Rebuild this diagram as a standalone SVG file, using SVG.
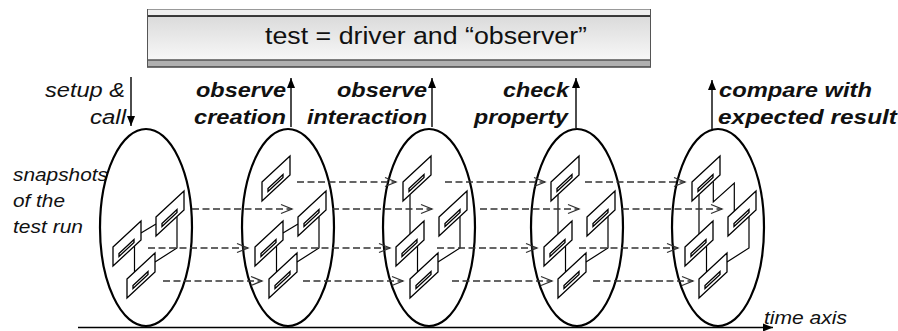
<svg xmlns="http://www.w3.org/2000/svg" width="898" height="331" viewBox="0 0 898 331">
  <style>
    .oval { fill: none; stroke: #000; stroke-width: 2.2; }
    .box { fill: #fff; stroke: #000; stroke-width: 1.3; stroke-linejoin: miter; }
    .link { fill: none; stroke: #000; stroke-width: 1.2; }
    .flow { fill: none; stroke: #333; stroke-width: 1.3; stroke-dasharray: 7 3.5; marker-end: url(#open); }
    .call { fill: none; stroke: #000; stroke-width: 1.4; marker-end: url(#solid); }
    .bold { font-family: "Liberation Sans", Arial, sans-serif; font-style: italic; font-weight: bold; font-size: 19.5px; fill: #111; }
    .ital { font-family: "Liberation Sans", Arial, sans-serif; font-style: italic; font-size: 19.5px; fill: #111; }
    .note { font-family: "Liberation Sans", Arial, sans-serif; font-style: italic; font-size: 17.5px; fill: #111; }
    .title { font-family: "Liberation Sans", Arial, sans-serif; font-size: 23px; fill: #111; }
  </style>
  <defs>
    <linearGradient id="bannerFill" x1="0" y1="0" x2="0" y2="1">
      <stop offset="0" stop-color="#d6d6d6"/>
      <stop offset="1" stop-color="#fcfcfc"/>
    </linearGradient>
    <marker id="open" markerUnits="userSpaceOnUse" markerWidth="14" markerHeight="12" refX="11" refY="5" orient="auto" overflow="visible">
      <path d="M0,0.5 L11,5 L0,9.5" fill="none" stroke="#333" stroke-width="1.3"/>
    </marker>
    <marker id="solid" markerUnits="userSpaceOnUse" markerWidth="12" markerHeight="10" refX="10" refY="4" orient="auto" overflow="visible">
      <path d="M0,0 L10,4 L0,8 Z" fill="#000"/>
    </marker>
    <!-- one object of the snapshot: slanted box with a slot -->
    <g id="obj">
      <path class="box" d="M0,0 L28,-26 L28,-7 L0,19 Z"/>
      <path class="box" d="M6,6.4 L21,-7.5 L21,-4.5 L6,9.4 Z"/>
    </g>
  </defs>

  <!-- title banner -->
  <g id="banner">
    <rect x="147" y="9" width="504" height="58" fill="url(#bannerFill)"/>
    <rect x="147" y="9" width="504" height="7" fill="#efefef"/>
    <rect x="147" y="60" width="504" height="7" fill="#b0b0b0"/>
    <line x1="147" y1="9.5" x2="651" y2="9.5" stroke="#999" stroke-width="1"/>
    <line x1="147" y1="16" x2="651" y2="16" stroke="#000" stroke-width="1.4"/>
    <line x1="147" y1="60" x2="651" y2="60" stroke="#555" stroke-width="1.4"/>
    <line x1="147" y1="67" x2="651" y2="67" stroke="#444" stroke-width="1.4"/>
    <line x1="147.5" y1="9" x2="147.5" y2="67" stroke="#555" stroke-width="1"/>
    <line x1="650.5" y1="9" x2="650.5" y2="67" stroke="#555" stroke-width="1"/>
    <text class="title" x="265" y="44" textLength="322" lengthAdjust="spacingAndGlyphs">test = driver and “observer”</text>
  </g>

  <!-- step labels -->
  <g id="labels">
    <text class="ital" x="45" y="96.5" textLength="80" lengthAdjust="spacingAndGlyphs">setup &amp;</text>
    <text class="ital" x="90" y="124" textLength="36" lengthAdjust="spacingAndGlyphs">call</text>
    <text class="bold" x="196" y="96.5" textLength="90" lengthAdjust="spacingAndGlyphs">observe</text>
    <text class="bold" x="194" y="124" textLength="92" lengthAdjust="spacingAndGlyphs">creation</text>
    <text class="bold" x="337" y="96.5" textLength="90" lengthAdjust="spacingAndGlyphs">observe</text>
    <text class="bold" x="307" y="124" textLength="120" lengthAdjust="spacingAndGlyphs">interaction</text>
    <text class="bold" x="503" y="96.5" textLength="66" lengthAdjust="spacingAndGlyphs">check</text>
    <text class="bold" x="474" y="124" textLength="94" lengthAdjust="spacingAndGlyphs">property</text>
    <text class="bold" x="719" y="96.5" textLength="153" lengthAdjust="spacingAndGlyphs">compare with</text>
    <text class="bold" x="718" y="124" textLength="179" lengthAdjust="spacingAndGlyphs">expected result</text>
    <text class="note" x="13" y="180.5" textLength="95" lengthAdjust="spacingAndGlyphs">snapshots</text>
    <text class="note" x="13" y="206.5" textLength="52" lengthAdjust="spacingAndGlyphs">of the</text>
    <text class="note" x="13" y="232.5" textLength="70" lengthAdjust="spacingAndGlyphs">test run</text>
  </g>

  <!-- time axis -->
  <g id="axis">
    <line x1="78" y1="327.5" x2="773" y2="327.5" stroke="#000" stroke-width="1.5" marker-end="url(#solid)"/>
    <text class="note" x="764" y="324" textLength="83" lengthAdjust="spacingAndGlyphs">time axis</text>
  </g>

  <!-- snapshot 1: after setup & call -->
  <g id="snapshot1">
    <ellipse class="oval" cx="146" cy="227.5" rx="46" ry="98.5"/>
    <path class="link" d="M141,233 L156,224"/>
    <path class="link" d="M134.5,246 V272"/>
    <path class="link" d="M177,216.5 V248 L155,262"/>
    <use href="#obj" x="156" y="217"/>
    <use href="#obj" x="113" y="247"/>
    <use href="#obj" x="127" y="279"/>
  </g>

  <!-- snapshot 2: a new object has been created -->
  <g id="snapshot2" transform="translate(142,0)">
    <ellipse class="oval" cx="146" cy="227.5" rx="46" ry="98.5"/>
    <path class="link" d="M141,233 L156,224"/>
    <path class="link" d="M134.5,246 V272"/>
    <path class="link" d="M177,216.5 V248 L155,262"/>
    <use href="#obj" x="120" y="182"/>
    <use href="#obj" x="156" y="217"/>
    <use href="#obj" x="113" y="247"/>
    <use href="#obj" x="127" y="279"/>
  </g>

  <!-- snapshot 3: links changed by the interaction -->
  <g id="snapshot3" transform="translate(283,0)">
    <ellipse class="oval" cx="146" cy="227.5" rx="46" ry="98.5"/>
    <path class="link" d="M127,194.5 V234"/>
    <path class="link" d="M134.5,246 V272"/>
    <path class="link" d="M177,216.5 V248 L155,262"/>
    <use href="#obj" x="120" y="182"/>
    <use href="#obj" x="156" y="217"/>
    <use href="#obj" x="113" y="247"/>
    <use href="#obj" x="127" y="279"/>
  </g>

  <!-- snapshot 4: property check -->
  <g id="snapshot4" transform="translate(431,0)">
    <ellipse class="oval" cx="146" cy="227.5" rx="46" ry="98.5"/>
    <path class="link" d="M127,194.5 V234"/>
    <path class="link" d="M134.5,246 V272"/>
    <path class="link" d="M177,216.5 V248 L155,262"/>
    <use href="#obj" x="120" y="182"/>
    <use href="#obj" x="156" y="217"/>
    <use href="#obj" x="113" y="247"/>
    <use href="#obj" x="127" y="279"/>
  </g>

  <!-- snapshot 5: final state with the result link -->
  <g id="snapshot5" transform="translate(572,0)">
    <ellipse class="oval" cx="146" cy="227.5" rx="46" ry="98.5"/>
    <path class="link" d="M127,194.5 V234"/>
    <path class="link" d="M134.5,246 V272"/>
    <path class="link" d="M177,216.5 V248 L155,262"/>
    <path class="link" d="M141.3,181.5 V202 L162.3,183 V211.2"/>
    <use href="#obj" x="120" y="182"/>
    <use href="#obj" x="156" y="217"/>
    <use href="#obj" x="113" y="247"/>
    <use href="#obj" x="127" y="279"/>
  </g>

  <!-- connectors: object identity over time, driver and observer arrows -->
  <g id="connectors">
    <line class="flow" x1="297" y1="182" x2="396" y2="182"/>
    <line class="flow" x1="445" y1="182" x2="545" y2="182"/>
    <line class="flow" x1="585" y1="182" x2="685" y2="182"/>

    <line class="flow" x1="192" y1="209" x2="292" y2="209"/>
    <line class="flow" x1="332" y1="209" x2="432" y2="209"/>
    <line class="flow" x1="480" y1="209" x2="579" y2="209"/>
    <line class="flow" x1="622" y1="209" x2="722" y2="209"/>

    <line class="flow" x1="148" y1="248" x2="248" y2="248"/>
    <line class="flow" x1="290" y1="248" x2="390" y2="248"/>
    <line class="flow" x1="437" y1="248" x2="537" y2="248"/>
    <line class="flow" x1="579" y1="248" x2="678" y2="248"/>

    <line class="flow" x1="163" y1="281" x2="262" y2="281"/>
    <line class="flow" x1="303" y1="281" x2="403" y2="281"/>
    <line class="flow" x1="452" y1="281" x2="552" y2="281"/>
    <line class="flow" x1="593" y1="281" x2="693" y2="281"/>

    <line class="call" x1="131" y1="77" x2="131" y2="126"/>
    <line class="call" x1="291" y1="127" x2="291" y2="78"/>
    <line class="call" x1="432" y1="127" x2="432" y2="78"/>
    <line class="call" x1="576" y1="128" x2="576" y2="78"/>
    <line class="call" x1="712" y1="129" x2="712" y2="80"/>
  </g>
</svg>
